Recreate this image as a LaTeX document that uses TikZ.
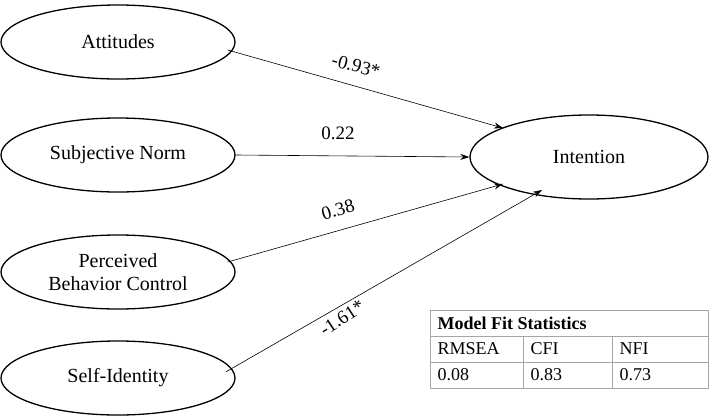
\documentclass[tikz,border=0pt]{standalone}
\usepackage{fontspec}
\setmainfont{Liberation Serif}
\usetikzlibrary{arrows.meta,shapes.geometric}
\begin{document}
\begin{tikzpicture}[x=1pt,y=-1pt,
  lat/.style={draw,ellipse,line width=1.3pt,minimum width=234pt,minimum height=74pt,inner sep=1pt,align=center,font=\fontsize{20}{23}\selectfont},
  arr/.style={-{Stealth[length=9pt,width=6pt]},line width=0.6pt},
  lab/.style={font=\fontsize{19}{22}\selectfont,inner sep=1pt},
  cell/.style={font=\fontsize{18}{21}\selectfont,anchor=west}]
\useasboundingbox (0,0) rectangle (709,418);
\node[lat] (att) at (118,42) {Attitudes};
\node[lat] (sn) at (118,155) {Subjective Norm};
\node[lat] (pbc) at (118,272) {Perceived\\Behavior Control};
\node[lat] (si) at (118,378) {Self-Identity};
\node[lat,minimum width=238pt,minimum height=84pt] (int) at (589,157) {Intention};
\draw[arr] (att.east) ++(-8,8) coordinate (a1) -- (503,128) coordinate (a2);
\draw[arr] (sn.east) -- (int.west);
\draw[arr] (pbc.east) ++(-8,-10) coordinate (p1) -- (503,184) coordinate (p2);
\draw[arr] (si.east) ++(-10,-6) coordinate (s1) -- (542,190) coordinate (s2);
\node[lab,rotate=-15] at (356,66) {-0.93*};
\node[lab] at (338,133) {0.22};
\node[lab,rotate=16] at (338,210) {0.38};
\node[lab,rotate=33] at (342,318) {-1.61*};
\draw[line width=0.6pt,gray!70] (430,310) rectangle (708,388) (430,336) -- (708,336) (430,362) -- (708,362)
  (523,336) -- (523,388) (612,336) -- (612,388);
\node[cell,font=\fontsize{18}{21}\selectfont\bfseries] at (434,323) {Model Fit Statistics};
\node[cell] at (434,349) {RMSEA};
\node[cell] at (527,349) {CFI};
\node[cell] at (616,349) {NFI};
\node[cell] at (434,375) {0.08};
\node[cell] at (527,375) {0.83};
\node[cell] at (616,375) {0.73};
\end{tikzpicture}
\end{document}
